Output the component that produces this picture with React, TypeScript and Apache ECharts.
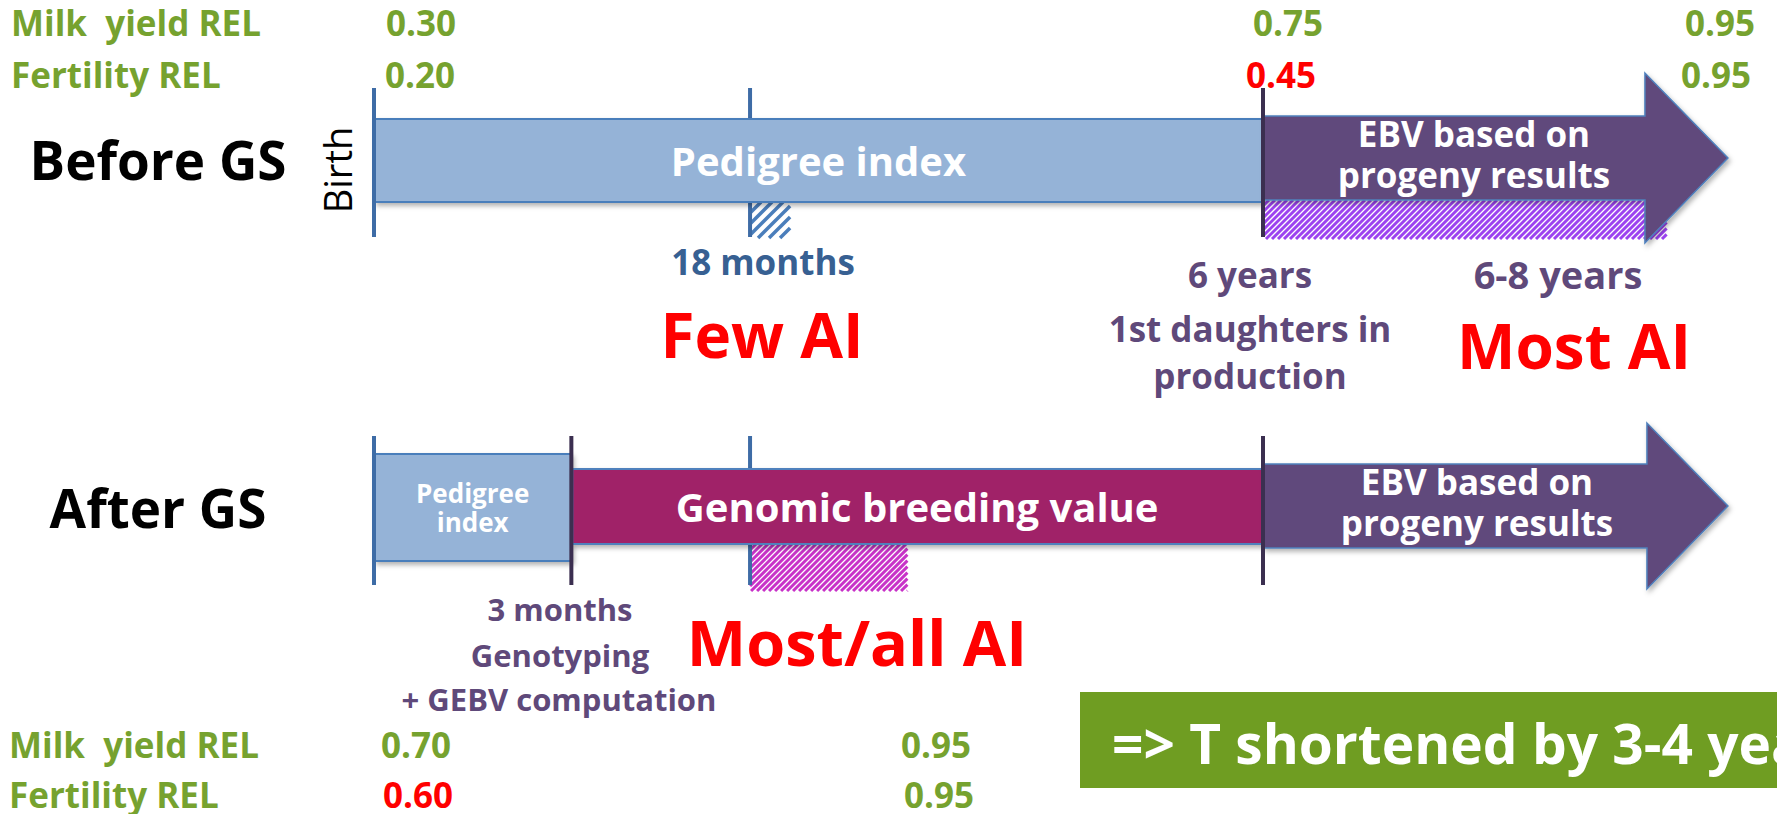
import React, { useEffect, useRef } from "react";
import * as echarts from "echarts";

// ---------- data ----------
const rows = ["Before GS", "After GS"];

// timeline units: Birth = 0, 6 years = 100 (diagram is not to scale)
const segRow = [0, 0, 1, 1, 1];
const segName = [
  "Pedigree index",
  "EBV based on\nprogeny results",
  "Pedigree\nindex",
  "Genomic breeding value",
  "EBV based on\nprogeny results",
];
const segFrom = [0, 100, 0, 22.2, 100];
const segTo = [100, 152.3, 22.2, 100, 152.3];

// milestone ticks (Birth, 3 months, 18 months, 6 years)
const msRow = [0, 0, 0, 1, 1, 1, 1];
const msAt = [0, 42.3, 100, 0, 22.2, 42.3, 100];

// periods of AI use (hatched)
const aiRow = [0, 0, 1];
const aiFrom = [42.3, 100, 42.3];
const aiTo = [46.8, 145.4, 60.0];
const aiLabels = ["Few AI", "Most AI", "Most/all AI"];

const relLabels = ["Milk  yield REL", "Fertility REL"];
const beforeMilk = [0.3, 0.75, 0.95];
const beforeFert = [0.2, 0.45, 0.95];
const afterMilk = [0.7, 0.95];
const afterFert = [0.6, 0.95];

const beforeNotes = ["18 months", "6 years", "1st daughters in", "production", "6-8 years"];
const afterNotes = ["3 months", "Genotyping", "+ GEBV computation"];
const conclusion = "=> T shortened by 3-4 years";

// ---------- styles ----------
const FONT = '"Open Sans", "Noto Sans", sans-serif';
const GREEN = "#76A22F";
const PURPLE_TXT = "#5F497A";
const RED = "#FF0000";

const segStyle = [
  { shape: "box", fill: "#95B3D7", stroke: "#4A7EBB", top: -40, bottom: 43, fs: 40, ty: 0, tx: 0 },
  { shape: "arrow", fill: "#604A7B", stroke: "#4F81BD", half: 42, dy: -1, headHalf: 85, headLen: 83, fs: 35, ty: -4, tx: 20 },
  { shape: "box", fill: "#95B3D7", stroke: "#4A7EBB", top: -53, bottom: 54, fs: 26, ty: 0, tx: 0 },
  { shape: "box", fill: "#A02268", stroke: "#4F81BD", top: -38, bottom: 37, fs: 40, ty: 0, tx: 0 },
  { shape: "arrow", fill: "#604A7B", stroke: "#4F81BD", half: 42, dy: -1, headHalf: 83, headLen: 81, fs: 35, ty: -4, tx: 22 },
];
const msColor = ["#3E6CA6", "#3E6CA6", "#3B2F50", "#3E6CA6", "#3B2F50", "#3E6CA6", "#3B2F50"];
const aiStyle = [
  { color: "#4A7EBB", top: 43, bottom: 79, gap: 11, lw: 3.5 },
  { color: "#9C42F0", top: 41, bottom: 80, gap: 6, lw: 3 },
  { color: "#C832C8", top: 37, bottom: 84, gap: 6, lw: 3 },
];

function T(text: string, x: number, y: number, size: number, color: string, align = "center", weight: any = "bold", extra: any = {}) {
  return {
    type: "text",
    x,
    y,
    silent: true,
    ...extra,
    style: {
      text,
      fill: color,
      fontSize: size,
      fontWeight: weight,
      fontFamily: FONT,
      align,
      verticalAlign: "middle",
    },
  };
}

function isBoundary(i: number) {
  for (let k = 0; k < segFrom.length; k++) {
    if (segRow[k] === msRow[i] && (segFrom[k] === msAt[i] || segTo[k] === msAt[i])) return true;
  }
  return false;
}

export default function App() {
  const ref = useRef<HTMLDivElement>(null);
  useEffect(() => {
    document.body.style.margin = "0";
    document.body.style.overflow = "hidden";
    const chart = echarts.init(ref.current!, undefined, { renderer: "svg" });

    const shadow = { shadowBlur: 5, shadowOffsetX: 2, shadowOffsetY: 3, shadowColor: "rgba(0,0,0,0.3)" };

    const graphic: any[] = [];
    // REL rows (top)
    graphic.push(T(relLabels[0], 11, 22, 35, GREEN, "left"));
    graphic.push(T(relLabels[1], 11, 74, 35, GREEN, "left"));
    const topX = [421, 1288, 1720];
    beforeMilk.forEach((v, i) => graphic.push(T(v.toFixed(2), topX[i], 22, 35, GREEN)));
    const topX2 = [420, 1281, 1716];
    beforeFert.forEach((v, i) => graphic.push(T(v.toFixed(2), topX2[i], 74, 35, i === 1 ? RED : GREEN)));
    // REL rows (bottom)
    graphic.push(T(relLabels[0], 9, 744, 35, GREEN, "left"));
    graphic.push(T(relLabels[1], 9, 794, 35, GREEN, "left"));
    const botX = [416, 936];
    afterMilk.forEach((v, i) => graphic.push(T(v.toFixed(2), botX[i], 744, 35, GREEN)));
    const botX2 = [418, 939];
    afterFert.forEach((v, i) => graphic.push(T(v.toFixed(2), botX2[i], 794, 35, i === 0 ? RED : GREEN)));

    // Birth
    graphic.push(T("Birth", 337, 170, 38, "#000", "center", "normal", { rotation: Math.PI / 2 }));

    // notes
    graphic.push(T(beforeNotes[0], 763, 261, 35, "#376092"));
    graphic.push(T(beforeNotes[1], 1250, 274, 35, PURPLE_TXT));
    graphic.push(T(beforeNotes[2], 1250, 328, 35, PURPLE_TXT));
    graphic.push(T(beforeNotes[3], 1250, 375, 35, PURPLE_TXT));
    graphic.push(T(beforeNotes[4], 1558, 274, 38, PURPLE_TXT));
    graphic.push(T(afterNotes[0], 560, 609, 31, PURPLE_TXT));
    graphic.push(T(afterNotes[1], 560, 655, 31, PURPLE_TXT));
    graphic.push(T(afterNotes[2], 559, 699, 31, PURPLE_TXT));

    // AI labels
    graphic.push(T(aiLabels[0], 762, 334, 62, RED));
    graphic.push(T(aiLabels[1], 1574, 345, 62, RED));
    graphic.push(T(aiLabels[2], 857, 641, 63, RED));

    // conclusion box
    graphic.push({
      type: "rect",
      silent: true,
      shape: { x: 1080, y: 692, width: 720, height: 96 },
      style: { fill: "#6F9D22" },
    });
    graphic.push(T(conclusion, 1112, 742, 55, "#FFFFFF", "left"));

    const option: any = {
      animation: false,
      grid: { left: 374, right: 514, top: 159, bottom: 307, containLabel: false, outerBoundsMode: "none" },
      xAxis: { type: "value", min: 0, max: 100, show: false },
      yAxis: {
        type: "category",
        data: rows,
        inverse: true,
        boundaryGap: false,
        axisLine: { show: false },
        axisTick: { show: false },
        splitLine: { show: false },
        axisLabel: {
          fontSize: 53,
          fontWeight: "bold",
          color: "#000",
          fontFamily: FONT,
          align: "center",
          margin: 216,
        },
      },
      series: [
        {
          type: "custom",
          name: "AI use",
          z: 1,
          clip: false,
          encode: { x: [0, 1], y: 2 },
          data: aiFrom.map((f, i) => [f, aiTo[i], aiRow[i]]),
          renderItem: (params: any, api: any) => {
            const i = params.dataIndex;
            const st = aiStyle[i];
            const a = api.coord([api.value(0), api.value(2)]);
            const b = api.coord([api.value(1), api.value(2)]);
            const x0 = a[0], x1 = b[0];
            const y0 = a[1] + st.top, y1 = a[1] + st.bottom;
            const children: any[] = [];
            for (let c = x0 + y0; c <= x1 + y1 + st.gap; c += st.gap) {
              const xa = Math.max(x0, c - y1);
              const xb = Math.min(x1, c - y0);
              if (xa < xb) {
                children.push({
                  type: "line",
                  shape: { x1: xa, y1: c - xa, x2: xb, y2: c - xb },
                  style: { stroke: st.color, lineWidth: st.lw },
                });
              }
            }
            return { type: "group", children };
          },
        },
        {
          type: "custom",
          name: "milestones",
          z: 2,
          clip: false,
          encode: { x: 0, y: 1 },
          data: msAt.map((x, i) => [x, msRow[i]]),
          renderItem: (params: any, api: any) => {
            const i = params.dataIndex;
            const p = api.coord([api.value(0), api.value(1)]);
            return {
              type: "line",
              z2: isBoundary(i) ? 10 : 0,
              shape: { x1: p[0], y1: p[1] - 71, x2: p[0], y2: p[1] + 78 },
              style: { stroke: msColor[i], lineWidth: 4 },
            };
          },
        },
        {
          type: "custom",
          name: "segments",
          z: 2,
          clip: false,
          encode: { x: [0, 1], y: 2 },
          data: segFrom.map((f, i) => [f, segTo[i], segRow[i]]),
          renderItem: (params: any, api: any) => {
            const i = params.dataIndex;
            const st: any = segStyle[i];
            const a = api.coord([api.value(0), api.value(2)]);
            const b = api.coord([api.value(1), api.value(2)]);
            const cy = a[1];
            const children: any[] = [];
            let tx = (a[0] + b[0]) / 2;
            let tyc = cy;
            if (st.shape === "box") {
              children.push({
                type: "rect",
                z2: 5,
                shape: { x: a[0] + 1, y: cy + st.top, width: b[0] - a[0] - 1, height: st.bottom - st.top },
                style: { fill: st.fill, stroke: st.stroke, lineWidth: 2, ...shadow },
              });
              tyc = cy + (st.top + st.bottom) / 2;
            } else {
              const c = cy + st.dy;
              const be = b[0] - st.headLen;
              children.push({
                type: "polygon",
                z2: 5,
                shape: {
                  points: [
                    [a[0] + 1, c - st.half],
                    [be, c - st.half],
                    [be, c - st.headHalf],
                    [b[0], c],
                    [be, c + st.headHalf],
                    [be, c + st.half],
                    [a[0] + 1, c + st.half],
                  ],
                },
                style: { fill: st.fill, stroke: st.stroke, lineWidth: 1.5, ...shadow },
              });
              tx = (a[0] + be) / 2;
              tyc = c;
            }
            children.push({
              type: "text",
              z2: 6,
              style: {
                text: segName[i],
                x: tx + st.tx,
                y: tyc + st.ty,
                fill: "#FFFFFF",
                fontSize: st.fs,
                fontWeight: "bold",
                fontFamily: FONT,
                align: "center",
                verticalAlign: "middle",
                lineHeight: st.fs * 1.15,
              },
            });
            return { type: "group", children };
          },
        },
      ],
      graphic,
    };
    chart.setOption(option);
    return () => chart.dispose();
  }, []);
  return <div ref={ref} style={{ width: 1777, height: 814 }} />;
}
